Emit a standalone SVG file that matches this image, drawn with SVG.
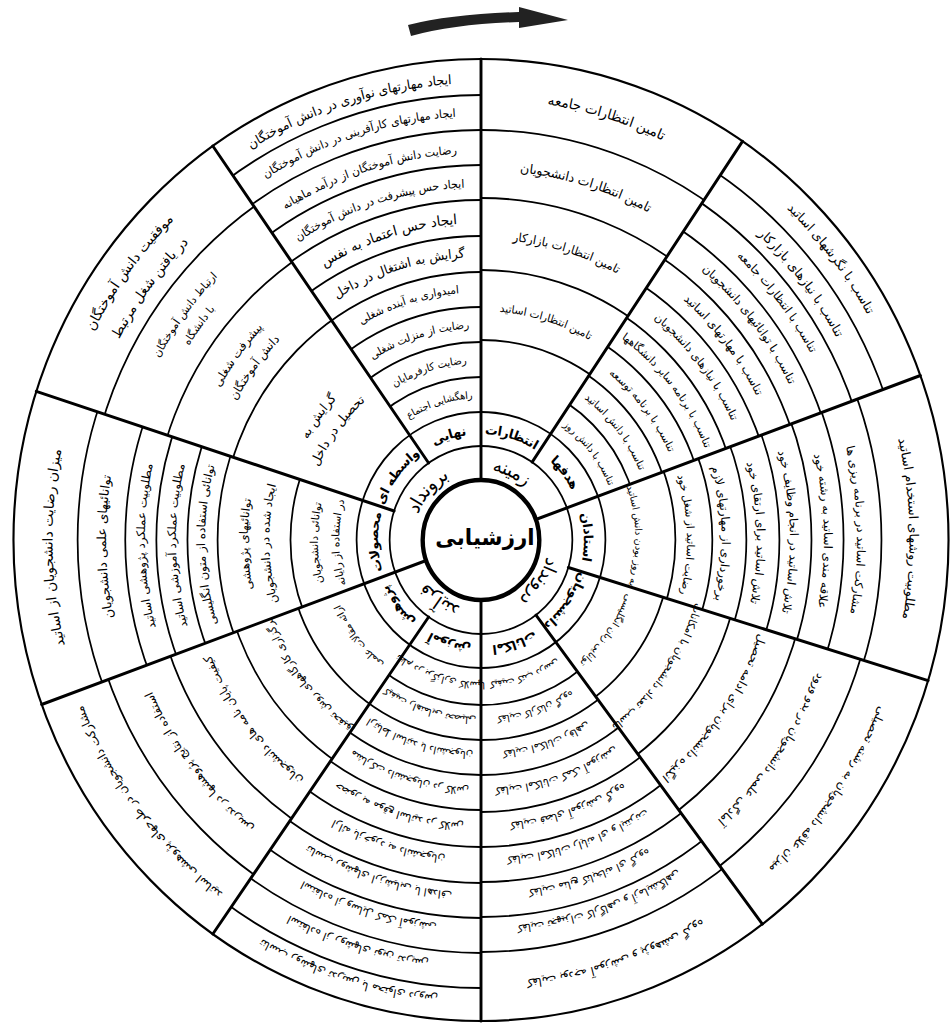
<svg xmlns="http://www.w3.org/2000/svg" width="951" height="1024" viewBox="0 0 951 1024">
<style>
.ring{fill:none;stroke:#000;stroke-width:1.8}
.thick{fill:none;stroke:#000;stroke-width:2.2}
.spoke{stroke:#000;stroke-width:3;stroke-linecap:round}
text{font-family:"DejaVu Sans",sans-serif;fill:#000;text-anchor:middle;dominant-baseline:central}
.lbl{font-weight:bold;font-size:13px}
.big{font-size:19px}
</style>
<defs>
<path id="r77" d="M-49.50,-58.98A77,77 0 0 1 49.50,-58.98"/>
<path id="r111" d="M-71.35,-85.03A111,111 0 0 1 71.35,-85.03"/>
<path id="r146" d="M-93.85,-111.84A146,146 0 0 1 93.85,-111.84"/>
<path id="r150" d="M-96.42,-114.90A150,150 0 0 1 96.42,-114.90"/>
<path id="r163" d="M-104.78,-124.86A163,163 0 0 1 104.78,-124.86"/>
<path id="r172" d="M-110.56,-131.75A172,172 0 0 1 110.56,-131.75"/>
<path id="r181" d="M-116.35,-138.65A181,181 0 0 1 116.35,-138.65"/>
<path id="r188" d="M-120.85,-144.01A188,188 0 0 1 120.85,-144.01"/>
<path id="r210" d="M-134.99,-160.86A210,210 0 0 1 134.99,-160.86"/>
<path id="r216" d="M-138.84,-165.46A216,216 0 0 1 138.84,-165.46"/>
<path id="r222" d="M-142.70,-170.05A222,222 0 0 1 142.70,-170.05"/>
<path id="r233" d="M-149.77,-178.48A233,233 0 0 1 149.77,-178.48"/>
<path id="r244" d="M-156.84,-186.90A244,244 0 0 1 156.84,-186.90"/>
<path id="r252" d="M-161.99,-193.03A252,252 0 0 1 161.99,-193.03"/>
<path id="r288" d="M-185.13,-220.61A288,288 0 0 1 185.13,-220.61"/>
<path id="r292" d="M-187.70,-223.67A292,292 0 0 1 187.70,-223.67"/>
<path id="r305" d="M-196.05,-233.63A305,305 0 0 1 196.05,-233.63"/>
<path id="r313" d="M-201.20,-239.76A313,313 0 0 1 201.20,-239.76"/>
<path id="r318" d="M-204.41,-243.59A318,318 0 0 1 204.41,-243.59"/>
<path id="r322" d="M-206.98,-246.65A322,322 0 0 1 206.98,-246.65"/>
<path id="r350" d="M-224.98,-268.10A350,350 0 0 1 224.98,-268.10"/>
<path id="r357" d="M-229.48,-273.46A357,357 0 0 1 229.48,-273.46"/>
<path id="r362" d="M-232.69,-277.29A362,362 0 0 1 232.69,-277.29"/>
<path id="r375" d="M-241.05,-287.25A375,375 0 0 1 241.05,-287.25"/>
<path id="r382" d="M-245.55,-292.61A382,382 0 0 1 245.55,-292.61"/>
<path id="r391" d="M-251.33,-299.51A391,391 0 0 1 251.33,-299.51"/>
<path id="r423" d="M-271.90,-324.02A423,423 0 0 1 271.90,-324.02"/>
<path id="r428" d="M-275.12,-327.85A428,428 0 0 1 275.12,-327.85"/>
<path id="r446" d="M-286.69,-341.64A446,446 0 0 1 286.69,-341.64"/>
<path id="r455" d="M-292.47,-348.53A455,455 0 0 1 292.47,-348.53"/>
<path id="r462" d="M-296.97,-353.89A462,462 0 0 1 296.97,-353.89"/>
<clipPath id="cA"><polygon points="0,0 0,-700 391.4,-580.3"/></clipPath>
<clipPath id="cB"><polygon points="0,0 391.4,-580.3 657.8,-239.4"/></clipPath>
<clipPath id="cC"><polygon points="0,0 657.8,-239.4 669.4,204.7"/></clipPath>
<clipPath id="cD"><polygon points="0,0 669.4,204.7 421.3,559"/></clipPath>
<clipPath id="cE"><polygon points="0,0 421.3,559 0,700"/></clipPath>
<clipPath id="cF"><polygon points="0,0 0,700 -401.5,573.4"/></clipPath>
<clipPath id="cG"><polygon points="0,0 -401.5,573.4 -657.8,239.4"/></clipPath>
<clipPath id="cH"><polygon points="0,0 -657.8,239.4 -665.7,-216.3"/></clipPath>
<clipPath id="cI"><polygon points="0,0 -665.7,-216.3 -401.5,-573.4"/></clipPath>
<clipPath id="cJ"><polygon points="0,0 -401.5,-573.4 0,-700"/></clipPath>
</defs>
<rect width="951" height="1024" fill="#fff"/>
<path id="arrow" d="M408,25 Q452,14 519,12 L519,7 L568,20 L519,28 L519,22 Q455,24 411,36 Z" fill="#222"/>
<g transform="translate(481,540) scale(0.972,1)">
<g id="connectors">
<circle class="thick" r="481"/>
<circle class="ring" r="94"/>
<circle class="ring" r="128"/>
<g class="ring" clip-path="url(#cA)"><circle r="200"/><circle r="270"/><circle r="342"/><circle r="410"/></g>
<g class="ring" clip-path="url(#cB)"><circle r="163"/><circle r="198"/><circle r="233"/><circle r="268"/><circle r="304"/><circle r="338"/><circle r="372"/><circle r="406"/><circle r="440"/></g>
<g class="ring" clip-path="url(#cC)"><circle r="200"/><circle r="238"/><circle r="273"/><circle r="307"/><circle r="340"/><circle r="373"/><circle r="412"/></g>
<g class="ring" clip-path="url(#cD)"><circle r="196"/><circle r="268"/><circle r="338"/><circle r="408"/></g>
<g class="ring" clip-path="url(#cE)"><circle r="165"/><circle r="200"/><circle r="235"/><circle r="272"/><circle r="307"/><circle r="342"/><circle r="377"/><circle r="412"/></g>
<g class="ring" clip-path="url(#cF)"><circle r="165"/><circle r="200"/><circle r="235"/><circle r="270"/><circle r="307"/><circle r="343"/><circle r="378"/><circle r="413"/><circle r="448"/></g>
<g class="ring" clip-path="url(#cG)"><circle r="200"/><circle r="267"/><circle r="340"/><circle r="408"/></g>
<g class="ring" clip-path="url(#cH)"><circle r="196"/><circle r="271"/><circle r="302"/><circle r="334"/><circle r="366"/><circle r="415"/></g>
<g class="ring" clip-path="url(#cI)"><circle r="268"/><circle r="339"/><circle r="407"/></g>
<g class="ring" clip-path="url(#cJ)"><circle r="163"/><circle r="198"/><circle r="233"/><circle r="268"/><circle r="304"/><circle r="340"/><circle r="375"/><circle r="410"/><circle r="445"/></g>
<line class="spoke" x1="0" y1="-60" x2="0" y2="-481"/>
<line class="spoke" x1="52.6" y1="-77.9" x2="269.0" y2="-398.7"/>
<line class="spoke" x1="56.4" y1="-20.5" x2="452.0" y2="-164.5"/>
<line class="spoke" x1="89.9" y1="27.5" x2="460.0" y2="140.6"/>
<line class="spoke" x1="56.6" y1="75.1" x2="289.5" y2="384.1"/>
<line class="spoke" x1="0" y1="60" x2="0" y2="481"/>
<line class="spoke" x1="-53.9" y1="77.0" x2="-275.9" y2="394.0"/>
<line class="spoke" x1="-56.4" y1="20.5" x2="-452.0" y2="164.5"/>
<line class="spoke" x1="-89.4" y1="-29.0" x2="-457.5" y2="-148.6"/>
<line class="spoke" x1="-53.9" y1="-77.0" x2="-275.9" y2="-394.0"/>
</g>
<g id="center">
<circle r="60" fill="#fff" stroke="#000" stroke-width="4.5"/>
<text x="4" y="-3" font-size="22" font-weight="bold">ارزشیابی</text>
</g>
<g id="ring1">
<text class="big" transform="rotate(25)"><textPath href="#r77" startOffset="50%">زمینه</textPath></text>
<text class="big" transform="rotate(125)"><textPath href="#r77" startOffset="50%">درونداد</textPath></text>
<text class="big" transform="rotate(215)"><textPath href="#r77" startOffset="50%">فرآیند</textPath></text>
<text class="big" transform="rotate(312)"><textPath href="#r77" startOffset="50%">برونداد</textPath></text>
</g>
<g id="sector-A" transform="rotate(17)">
<text class="lbl"><textPath href="#r111" startOffset="50%">انتظارات</textPath></text>
<text font-size="14"><textPath href="#r446" startOffset="50%">تامین انتظارات جامعه</textPath></text>
<text font-size="13"><textPath href="#r375" startOffset="50%">تامین انتظارات دانشجویان</textPath></text>
<text font-size="12"><textPath href="#r305" startOffset="50%">تامین انتظارات بازارکار</textPath></text>
<text font-size="11"><textPath href="#r233" startOffset="50%">تامین انتظارات اساتید</textPath></text>
</g>
<g id="sector-B" transform="rotate(52)">
<text class="lbl"><textPath href="#r111" startOffset="50%">هدفها</textPath></text>
<text font-size="13"><textPath href="#r462" startOffset="50%">تناسب با نگرشهای اساتید</textPath></text>
<text font-size="13"><textPath href="#r423" startOffset="50%">تناسب با نیازهای بازارکار</textPath></text>
<text font-size="12"><textPath href="#r391" startOffset="50%">تناسب با انتظارات جامعه</textPath></text>
<text font-size="12"><textPath href="#r357" startOffset="50%">تناسب با توانائیهای دانشجویان</textPath></text>
<text font-size="12"><textPath href="#r322" startOffset="50%">تناسب با مهارتهای اساتید</textPath></text>
<text font-size="11.5"><textPath href="#r288" startOffset="50%">تناسب با نیازهای دانشجویان</textPath></text>
<text font-size="11"><textPath href="#r252" startOffset="50%">تناسب با برنامه سایر دانشگاهها</textPath></text>
<text font-size="11"><textPath href="#r216" startOffset="50%">تناسب با برنامه توسعه</textPath></text>
<text font-size="10.5"><textPath href="#r181" startOffset="50%">تناسب با دانش اساتید</textPath></text>
<text font-size="10"><textPath href="#r146" startOffset="50%">تناسب با دانش روز</textPath></text>
</g>
<g id="sector-C" transform="rotate(88.5)">
<text class="lbl"><textPath href="#r111" startOffset="50%">استادان</textPath></text>
<text font-size="13"><textPath href="#r446" startOffset="50%">مطلوبیت روشهای استخدام اساتید</textPath></text>
<text font-size="12"><textPath href="#r391" startOffset="50%">مشارکت اساتید در برنامه ریزی ها</textPath></text>
<text font-size="12"><textPath href="#r357" startOffset="50%">علاقه مندی اساتید به رشته خود</textPath></text>
<text font-size="12"><textPath href="#r322" startOffset="50%">تلاش اساتید در انجام وظایف خود</textPath></text>
<text font-size="12"><textPath href="#r288" startOffset="50%">تلاش اساتید برای ارتقای خود</textPath></text>
<text font-size="12"><textPath href="#r252" startOffset="50%">برخورداری از مهارتهای لازم</textPath></text>
<text font-size="11"><textPath href="#r216" startOffset="50%">رضایت اساتید از شغل خود</textPath></text>
<text font-size="10"><textPath href="#r163" startOffset="50%">به روز بودن دانش اساتید</textPath></text>
</g>
<g id="sector-D" transform="rotate(125)">
<text class="lbl"><textPath href="#r111" startOffset="50%">دانشجویان</textPath></text>
<text font-size="12"><textPath href="#r446" startOffset="50%">میزان علاقه دانشجویان به رشته تحصیلی</textPath></text>
<text font-size="12"><textPath href="#r375" startOffset="50%">آمادگی علمی دانشجویان در بدو ورود</textPath></text>
<text font-size="12"><textPath href="#r305" startOffset="50%">انگیزه دانشجویان برای ادامه تحصیل</textPath></text>
<text font-size="11"><textPath href="#r233" startOffset="50%">تناسب تعداد دانشجویان با امکانات</textPath></text>
<text font-size="10"><textPath href="#r163" startOffset="50%">توانایی زبان انگلیسی</textPath></text>
</g>
<g id="sector-E" transform="rotate(161.5)">
<text class="lbl"><textPath href="#r111" startOffset="50%">امکانات</textPath></text>
<text font-size="12"><textPath href="#r446" startOffset="50%">کفایت بودجه آموزشی و پژوهشی گروه</textPath></text>
<text font-size="11"><textPath href="#r391" startOffset="50%">کفایت تجهیزات کارگاهی و آزمایشگاهی</textPath></text>
<text font-size="11"><textPath href="#r357" startOffset="50%">کفایت منابع کتابخانه ای گروه</textPath></text>
<text font-size="11"><textPath href="#r322" startOffset="50%">کفایت امکانات رایانه ای و اینترنت</textPath></text>
<text font-size="11"><textPath href="#r288" startOffset="50%">کفایت فضای آموزشی گروه</textPath></text>
<text font-size="11"><textPath href="#r252" startOffset="50%">کفایت امکانات کمک آموزشی</textPath></text>
<text font-size="10.5"><textPath href="#r216" startOffset="50%">کفایت امکانات رفاهی</textPath></text>
<text font-size="10"><textPath href="#r181" startOffset="50%">کفایت کارکنان گروه</textPath></text>
<text font-size="10"><textPath href="#r146" startOffset="50%">کیفیت کتب درسی</textPath></text>
</g>
<g id="sector-F" transform="rotate(197.5)">
<text class="lbl"><textPath href="#r111" startOffset="50%">آموزش</textPath></text>
<text font-size="11.5"><textPath href="#r462" startOffset="50%">تناسب روشهای تدریس با محتوای دروس</textPath></text>
<text font-size="11.5"><textPath href="#r428" startOffset="50%">استفاده از روشهای نوین تدریس</textPath></text>
<text font-size="11"><textPath href="#r391" startOffset="50%">استفاده از وسایل کمک آموزشی</textPath></text>
<text font-size="11"><textPath href="#r357" startOffset="50%">تناسب روشهای ارزشیابی با اهداف</textPath></text>
<text font-size="11"><textPath href="#r322" startOffset="50%">ارائه بازخورد به دانشجویان</textPath></text>
<text font-size="11"><textPath href="#r288" startOffset="50%">حضور به موقع اساتید در کلاس</textPath></text>
<text font-size="10.5"><textPath href="#r252" startOffset="50%">مشارکت دانشجویان در کلاس</textPath></text>
<text font-size="10.5"><textPath href="#r216" startOffset="50%">ارتباط اساتید با دانشجویان</textPath></text>
<text font-size="10"><textPath href="#r181" startOffset="50%">کیفیت راهنمایی تحصیلی</textPath></text>
<text font-size="10"><textPath href="#r146" startOffset="50%">نظم در برگزاری کلاسها</textPath></text>
</g>
<g id="sector-G" transform="rotate(232.5)">
<text class="lbl"><textPath href="#r111" startOffset="50%">پژوهش</textPath></text>
<text font-size="12"><textPath href="#r446" startOffset="50%">مشارکت دانشجویان در طرحهای پژوهشی اساتید</textPath></text>
<text font-size="12"><textPath href="#r375" startOffset="50%">استفاده از نتایج پژوهشها در تدریس</textPath></text>
<text font-size="12"><textPath href="#r305" startOffset="50%">کیفیت پایان نامه های دانشجویان</textPath></text>
<text font-size="11"><textPath href="#r233" startOffset="50%">برگزاری کارگاههای روش تحقیق</textPath></text>
<text font-size="10"><textPath href="#r163" startOffset="50%">ارائه مقالات علمی</textPath></text>
</g>
<g id="sector-H" transform="rotate(269)">
<text class="lbl"><textPath href="#r111" startOffset="50%">محصولات</textPath></text>
<text font-size="14"><textPath href="#r446" startOffset="50%">میزان رضایت دانشجویان از اساتید</textPath></text>
<text font-size="13"><textPath href="#r391" startOffset="50%">توانائیهای علمی دانشجویان</textPath></text>
<text font-size="12"><textPath href="#r350" startOffset="50%">مطلوبیت عملکرد پژوهشی اساتید</textPath></text>
<text font-size="12"><textPath href="#r318" startOffset="50%">مطلوبیت عملکرد آموزشی اساتید</textPath></text>
<text font-size="12"><textPath href="#r288" startOffset="50%">توانائی استفاده از متون انگلیسی</textPath></text>
<text font-size="12"><textPath href="#r244" startOffset="50%">توانائیهای پژوهشی</textPath></text>
<text font-size="12"><textPath href="#r222" startOffset="50%">ایجاد شده در دانشجویان</textPath></text>
<text font-size="11"><textPath href="#r172" startOffset="50%">توانائی دانشجویان</textPath></text>
<text font-size="11"><textPath href="#r150" startOffset="50%">در استفاده از رایانه</textPath></text>
</g>
<g id="sector-I" transform="rotate(306.5)">
<text class="lbl"><textPath href="#r111" startOffset="50%">واسطه ای</textPath></text>
<text font-size="14"><textPath href="#r455" startOffset="50%">موفقیت دانش آموختگان</textPath></text>
<text font-size="14"><textPath href="#r428" startOffset="50%">در یافتن شغل مرتبط</textPath></text>
<text font-size="11"><textPath href="#r382" startOffset="50%">ارتباط دانش آموختگان</textPath></text>
<text font-size="11"><textPath href="#r362" startOffset="50%">با دانشگاه</textPath></text>
<text font-size="12"><textPath href="#r313" startOffset="50%">پیشرفت شغلی</textPath></text>
<text font-size="12"><textPath href="#r292" startOffset="50%">دانش آموختگان</textPath></text>
<text font-size="13"><textPath href="#r210" startOffset="50%">گرایش به</textPath></text>
<text font-size="13"><textPath href="#r188" startOffset="50%">تحصیل در داخل</textPath></text>
</g>
<g id="sector-J" transform="rotate(342.5)">
<text class="lbl"><textPath href="#r111" startOffset="50%">نهایی</textPath></text>
<text font-size="13"><textPath href="#r462" startOffset="50%">ایجاد مهارتهای نوآوری در دانش آموختگان</textPath></text>
<text font-size="11.5"><textPath href="#r428" startOffset="50%">ایجاد مهارتهای کارآفرینی در دانش آموختگان</textPath></text>
<text font-size="11.5"><textPath href="#r391" startOffset="50%">رضایت دانش آموختگان از درآمد ماهیانه</textPath></text>
<text font-size="11.5"><textPath href="#r357" startOffset="50%">ایجاد حس پیشرفت در دانش آموختگان</textPath></text>
<text font-size="14"><textPath href="#r322" startOffset="50%">ایجاد حس اعتماد به نفس</textPath></text>
<text font-size="13"><textPath href="#r288" startOffset="50%">گرایش به اشتغال در داخل</textPath></text>
<text font-size="11"><textPath href="#r252" startOffset="50%">امیدواری به آینده شغلی</textPath></text>
<text font-size="11"><textPath href="#r216" startOffset="50%">رضایت از منزلت شغلی</textPath></text>
<text font-size="10.5"><textPath href="#r181" startOffset="50%">رضایت کارفرمایان</textPath></text>
<text font-size="10"><textPath href="#r146" startOffset="50%">راهگشایی اجتماع</textPath></text>
</g>
</g>
</svg>
